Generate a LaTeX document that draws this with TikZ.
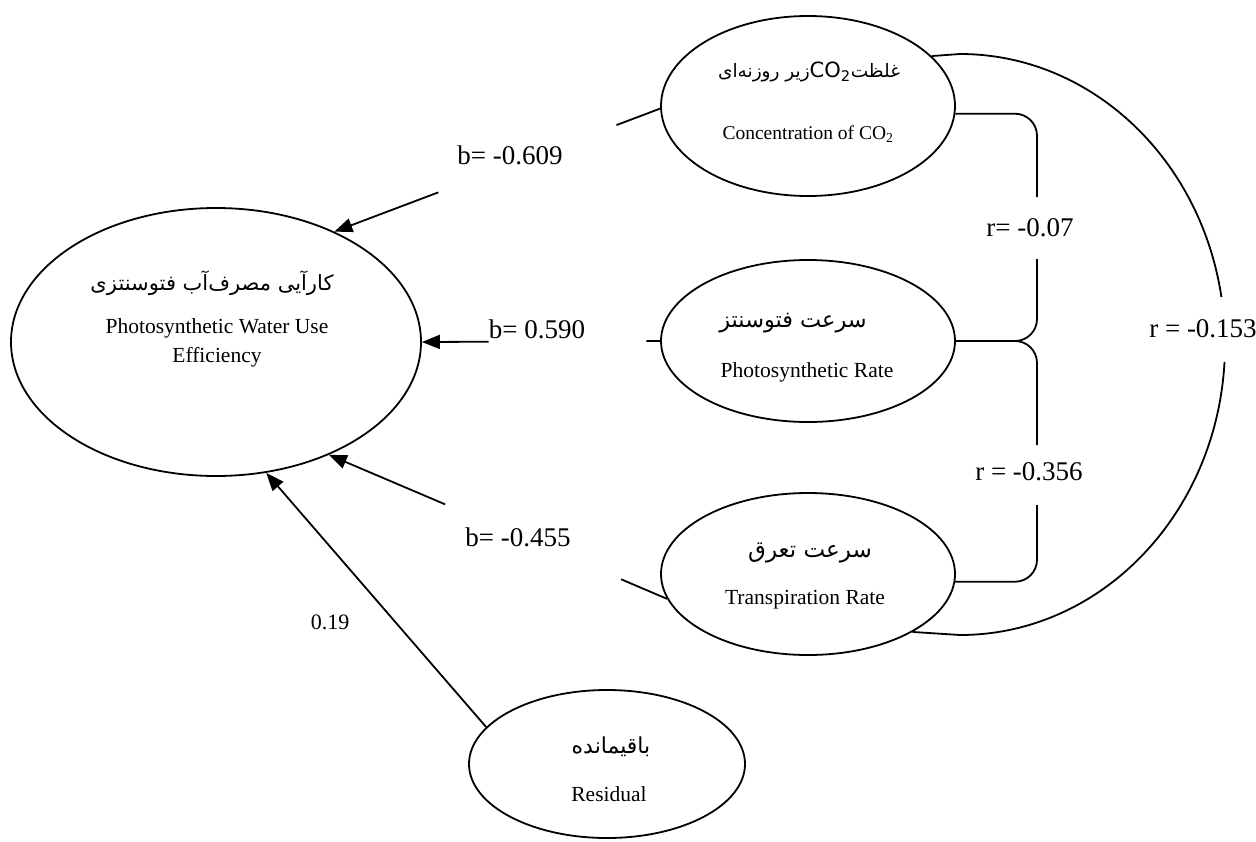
\documentclass[tikz,border=0pt]{standalone}
\usepackage{fontspec}
\setmainfont{Liberation Serif}
\newfontfamily\farsifont[Script=Arabic]{DejaVu Sans}
\usetikzlibrary{arrows.meta, shapes, positioning, calc}
\TeXXeTstate=1

\begin{document}
\begin{tikzpicture}[x=1pt, y=1pt, >={Triangle[length=18pt,width=14pt]}, line width=1.8pt,
  var node/.style={ellipse, draw, inner sep=0pt},
  fa text/.style={font=\farsifont\fontsize{#1}{#1}\selectfont},
  fa text/.default=20,
  en text/.style={font=\fontsize{21.5}{29}\selectfont, align=center},
  coef/.style={font=\fontsize{27}{32}\selectfont}]
  \fill[white] (0,0) rectangle (1256,-841);
  \useasboundingbox (0,0) rectangle (1256,-841);

  % variables
  \node[var node, minimum width=410pt, minimum height=268pt] (wue) at (216,-342) {};
  \node[var node, minimum width=294pt, minimum height=180pt] (co2) at (808,-106) {};
  \node[var node, minimum width=294pt, minimum height=162pt] (pr) at (808,-341) {};
  \node[var node, minimum width=294pt, minimum height=162pt] (tr) at (808,-574) {};
  \node[var node, minimum width=276pt, minimum height=148pt] (res) at (607,-764) {};

  \node[fa text=21] at ([shift={(-4,59)}]wue.center) {\beginR کارآیی مصرف^^^^200cآب فتوسنتزی\endR};
  \node[en text] at ([shift={(1,-1)}]wue.center) {Photosynthetic Water Use\\Efficiency};
  \node[fa text=18.5] at ([shift={(1,34)}]co2.center) {\beginR غلظت\beginL{\fontsize{21}{21}\selectfont CO\textsubscript{2}}\endL زیر روزنه^^^^200cای\endR};
  \node[en text, font=\fontsize{19.5}{24}\selectfont] at ([shift={(0,-28)}]co2.center) {Concentration of CO\textsubscript{2}};
  \node[fa text=22.4] at ([shift={(-15,18)}]pr.center) {\beginR سرعت فتوسنتز\endR};
  \node[en text] at ([shift={(-1,-31)}]pr.center) {Photosynthetic Rate};
  \node[fa text=23] at ([shift={(2,21)}]tr.center) {\beginR سرعت تعرق\endR};
  \node[en text] at ([shift={(-3,-26)}]tr.center) {Transpiration Rate};
  \node[fa text=22] at ([shift={(4,17)}]res.center) {\beginR باقیمانده\endR};
  \node[en text] at ([shift={(2,-30)}]res.center) {Residual};

  % paths to the dependent variable
  \draw (co2.181) -- ($(co2.181)!0.134!(wue.43)$);
  \draw[->] ($(co2.181)!0.681!(wue.43)$) -- (wue.43);
  \node[coef] (b1) at (510,-155) {b= -0.609};

  \draw (pr.west) -- ($(pr.west)!0.058!(wue.east)$);
  \draw[->] ($(pr.west)!0.72!(wue.east)$) -- (wue.east);
  \node[coef] (b2) at (537,-329) {b= 0.590};

  \draw (tr.190) -- ($(tr.190)!0.136!(wue.-45)$);
  \draw[->] ($(tr.190)!0.656!(wue.-45)$) -- (wue.-45);
  \node[coef] (b3) at (518,-537) {b= -0.455};

  \draw[->] (res.163) -- (wue.-69);
  \node[coef, font=\fontsize{22}{26}\selectfont] (e1) at (330,-622) {0.19};

  % correlations
  \draw[rounded corners=22pt] (co2.-3) -| (1037,-197);
  \draw[rounded corners=22pt] (1037,-259) |- (pr.east);
  \node[coef] (r1) at (1030,-228) {r= -0.07};

  \draw[rounded corners=22pt] (pr.east) -| (1037,-445);
  \draw[rounded corners=22pt] (1037,-505) |- (tr.-3);
  \node[coef] (r2) at (1029,-472) {r = -0.356};

  \draw (co2.22) -- (960,-54) arc[start angle=90, end angle=9.4, x radius=265, y radius=290.5];
  \draw (tr.-29) -- (960,-635) arc[start angle=-90, end angle=-3.45, x radius=265, y radius=290.5];
  \node[coef] (r3) at (1203,-329) {r = -0.153};
\end{tikzpicture}
\end{document}
